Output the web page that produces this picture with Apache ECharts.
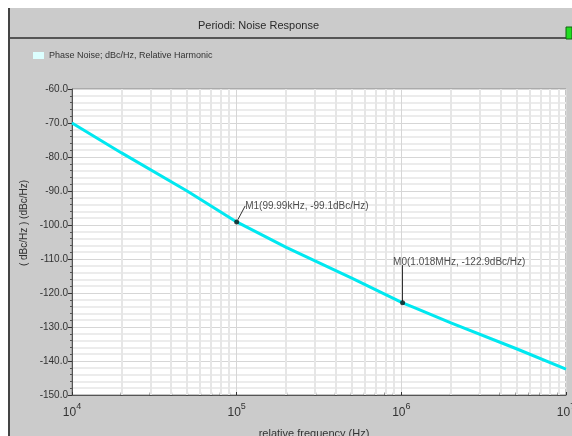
<!DOCTYPE html>
<html>
<head>
<meta charset="utf-8">
<script src="https://cdn.jsdelivr.net/npm/echarts@6/dist/echarts.min.js"></script>
<style>html,body{margin:0;padding:0;background:#cbcbcb;overflow:hidden;width:572px;height:436px;}#c{width:572px;height:436px;}</style>
</head>
<body>
<div id="c"></div>
<script>
// ---- data ----
var freqs = [1e4, 2e4, 5e4, 1e5, 2e5, 5e5, 1.018e6, 1.2e6, 2e6, 5e6, 1e7];
var phaseNoise = [-70.0, -78.8, -90.0, -99.1, -106.6, -115.6, -122.9, -124.3, -128.8, -136.4, -142.4];
var markerNames = ['M1(99.99kHz, -99.1dBc/Hz)', 'M0(1.018MHz, -122.9dBc/Hz)'];
var markerFreqs = [1e5, 1.018e6];
var markerValues = [-99.1, -122.9];
var markerLabelValues = [-94.5, -111.8];
var minorFreqs = [2e4,3e4,4e4,5e4,6e4,7e4,8e4,9e4,2e5,3e5,4e5,5e5,6e5,7e5,8e5,9e5,2e6,3e6,4e6,5e6,6e6,7e6,8e6,9e6];
var yTicks = {min: -150, max: -60, interval: 10};
var titleText = 'Periodi: Noise Response';
var legendText = 'Phase Noise; dBc/Hz, Relative Harmonic';
var xName = 'relative frequency (Hz)';
var yName = '( dBc/Hz ) (dBc/Hz)';

var FONT = 'Liberation Sans, Arial, sans-serif';
var chart = echarts.init(document.getElementById('c'), null, {width: 572, height: 436});

var curve = freqs.map(function (f, i) { return [f, phaseNoise[i]]; });
var markers = markerFreqs.map(function (f, i) {
  return {name: markerNames[i], value: [f, markerValues[i]], labelLine: {show: i === 0}};
});
var minorTickPts = minorFreqs.map(function (f) { return [f, yTicks.min]; });

chart.setOption({
  backgroundColor: '#cbcbcb',
  animation: false,
  title: {
    text: titleText, left: 193, top: 15,
    textStyle: {fontFamily: FONT, fontSize: 11, fontWeight: 'normal', color: '#2a2a2a'}
  },
  legend: {
    left: 28, top: 46, itemWidth: 11, itemHeight: 7, itemGap: 4,
    icon: 'rect',
    data: [{name: legendText, itemStyle: {color: '#dcffff'}}],
    textStyle: {fontFamily: FONT, fontSize: 9, color: '#333'}
  },
  graphic: [
    {type: 'rect', shape: {x: 0, y: 0, width: 572, height: 8}, style: {fill: '#ffffff'}, z: 0},
    {type: 'rect', shape: {x: 0, y: 0, width: 8, height: 436}, style: {fill: '#ffffff'}, z: 0},
    {type: 'rect', shape: {x: 8, y: 8, width: 2, height: 428}, style: {fill: '#444'}, z: 1},
    {type: 'rect', shape: {x: 10, y: 37, width: 562, height: 2}, style: {fill: '#555'}, z: 1},
    {type: 'rect', shape: {x: 566, y: 27, width: 6, height: 12}, style: {fill: '#22dd22', stroke: '#116611', lineWidth: 1}, z: 2},
    {type: 'text', left: 19, top: 180, rotation: Math.PI / 2, style: {text: yName, font: '10px ' + FONT, fill: '#333'}, z: 3}
  ],
  grid: {left: 72, top: 89, right: 6, bottom: 41, outerBoundsMode: 'none', containLabel: false,
    show: true, backgroundColor: '#ffffff', borderColor: '#8a8a8a', borderWidth: 1},
  xAxis: {
    type: 'log', logBase: 10, min: 1e4, max: 1e7,
    name: xName, nameLocation: 'middle', nameGap: 33,
    nameTextStyle: {fontFamily: FONT, fontSize: 11, color: '#333', padding: [0, 0, 0, -10]},
    axisLine: {show: true, onZero: false, lineStyle: {color: '#555', width: 1}},
    axisTick: {show: true, length: 3, inside: true, lineStyle: {color: '#333'}},
    splitLine: {show: true, lineStyle: {color: '#d6d6d6', width: 1}},
    axisLabel: {
      margin: 7,
      formatter: function (v) { return '{b|10}{s|' + Math.round(Math.log10(v)) + '}'; },
      rich: {
        b: {fontFamily: FONT, fontSize: 12, color: '#333', verticalAlign: 'bottom'},
        s: {fontFamily: FONT, fontSize: 9, color: '#333', padding: [0, 0, 8, 0], verticalAlign: 'bottom'}
      }
    }
  },
  yAxis: {
    type: 'value', min: yTicks.min, max: yTicks.max, interval: yTicks.interval,
    axisLine: {show: true, lineStyle: {color: '#555'}},
    axisTick: {show: true, length: 4, lineStyle: {color: '#333'}},
    minorTick: {show: true, splitNumber: 5, length: 2, lineStyle: {color: '#555'}},
    splitLine: {show: true, lineStyle: {color: '#d6d6d6', width: 1}},
    minorSplitLine: {show: true, lineStyle: {color: '#ececec', width: 2}},
    axisLabel: {
      margin: 4,
      formatter: function (v) { return v.toFixed(1); },
      fontFamily: FONT, fontSize: 10, color: '#333'
    }
  },
  series: [
    {
      type: 'line', name: 'grid-minor', data: [], silent: true,
      markLine: {
        silent: true, symbol: 'none', label: {show: false},
        lineStyle: {color: '#e6e6e6', width: 2, type: 'solid'},
        data: minorFreqs.map(function (f) { return {xAxis: f}; })
      }
    },
    {
      type: 'scatter', name: 'ticks', data: minorTickPts, silent: true,
      symbol: 'rect', symbolSize: [2, 3], symbolOffset: [0, -1],
      itemStyle: {color: '#333'}, clip: false, z: 4
    },
    {
      type: 'line', name: legendText, data: curve, showSymbol: false, symbol: 'none',
      lineStyle: {color: '#00e8f0', width: 3}, itemStyle: {color: '#dcffff'}, z: 5
    },
    {
      type: 'scatter', name: 'markers', data: markers, symbolSize: 5,
      itemStyle: {color: '#111'}, z: 6,
      label: {
        show: true, position: 'right', distance: 4,
        formatter: function (p) { return p.name; },
        fontFamily: FONT, fontSize: 10, color: '#222'
      },
      labelLine: {lineStyle: {color: '#333', width: 1}},
      labelLayout: function (p) {
        if (p.dataIndex === 0) return {dx: 2, dy: -16};
        return {dx: -16, dy: -41};
      },
      markLine: {
        silent: true, symbol: 'none', label: {show: false},
        lineStyle: {color: '#333', width: 1, type: 'solid'},
        data: [[{coord: [markerFreqs[1], markerValues[1]]}, {coord: [markerFreqs[1], markerLabelValues[1]]}]]
      }
    }
  ]
});
</script>
</body>
</html>
